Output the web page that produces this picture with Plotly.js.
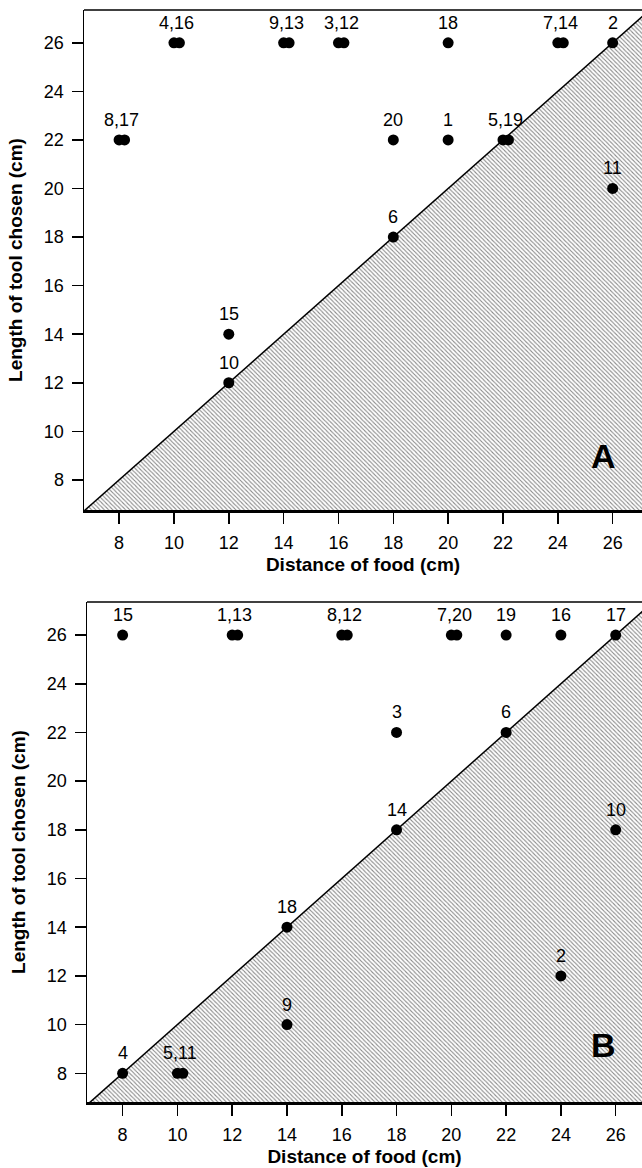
<!DOCTYPE html>
<html>
<head>
<meta charset="utf-8">
<script src="https://cdn.plot.ly/plotly-3.0.1.min.js"></script>
<style>html,body{margin:0;padding:0;background:#fff;}#chart{width:642px;height:1168px;}</style>
</head>
<body>
<div id="chart"></div>
<script>
// Panel A data (subject id, distance of food, length of tool chosen)
const idsA  = [4, 16, 9, 13, 3, 12, 18, 7, 14, 2, 8, 17, 20, 1, 5, 19, 11, 6, 15, 10];
const distA = [10, 10.2, 14, 14.2, 16, 16.2, 20, 24, 24.2, 26, 8, 8.2, 18, 20, 22, 22.2, 26, 18, 12, 12];
const lenA  = [26, 26, 26, 26, 26, 26, 26, 26, 26, 26, 22, 22, 22, 22, 22, 22, 20, 18, 14, 12];

// Panel B data
const idsB  = [15, 1, 13, 8, 12, 7, 20, 19, 16, 17, 3, 6, 14, 10, 18, 9, 2, 4, 5, 11];
const distB = [8, 12, 12.2, 16, 16.2, 20, 20.2, 22, 24, 26, 18, 22, 18, 26, 14, 14, 24, 8, 10, 10.2];
const lenB  = [26, 26, 26, 26, 26, 26, 26, 26, 26, 26, 22, 22, 18, 18, 14, 10, 12, 8, 8, 8];

const tickVals = [8, 10, 12, 14, 16, 18, 20, 22, 24, 26];
const panelLetters = ['A', 'B'];
const xTitle = 'Distance of food (cm)';
const yTitle = 'Length of tool chosen (cm)';

const FONT = '"Liberation Sans", Arial, Helvetica, sans-serif';

// group overlapping points for labels
function groups(ids, xs, ys) {
  const out = [];
  ids.forEach((id, i) => {
    const g = out.find(o => o.y === ys[i] && Math.abs(o.xs[o.xs.length - 1] - xs[i]) < 0.5);
    if (g) { g.ids.push(id); g.xs.push(xs[i]); }
    else out.push({ids: [id], xs: [xs[i]], y: ys[i]});
  });
  return out;
}

const traces = [];
const annotations = [];
const shapes = [];
const panels = [
  {ids: idsA, xs: distA, ys: lenA, xa: 'x', ya: 'y'},
  {ids: idsB, xs: distB, ys: lenB, xa: 'x2', ya: 'y2'}
];

panels.forEach((p, k) => {
  // shaded area below the identity line
  traces.push({
    x: [6, 28, 28, 6], y: [6, 28, 0, 0], xaxis: p.xa, yaxis: p.ya,
    mode: 'none', fill: 'toself', fillcolor: 'rgba(0,0,0,0)',
    fillpattern: {shape: '\\', size: 3, solidity: 0.35, fgcolor: '#8a8a8a', bgcolor: '#fff'},
    hoverinfo: 'skip', showlegend: false
  });
  // identity line
  traces.push({
    x: [6, 28], y: [6, 28], xaxis: p.xa, yaxis: p.ya, mode: 'lines',
    line: {color: '#000', width: 1.5}, hoverinfo: 'skip', showlegend: false
  });
  // points
  traces.push({
    x: p.xs, y: p.ys, text: p.ids, xaxis: p.xa, yaxis: p.ya, mode: 'markers',
    marker: {color: '#000', size: 11}, cliponaxis: false, showlegend: false
  });
  // labels
  groups(p.ids, p.xs, p.ys).forEach(g => {
    annotations.push({
      xref: p.xa, yref: p.ya,
      x: g.xs.reduce((a, b) => a + b, 0) / g.xs.length, y: g.y,
      text: g.ids.join(','), showarrow: false, yshift: 20,
      font: {family: FONT, size: 18, color: '#000'}
    });
  });
  // panel letter
  annotations.push({
    xref: p.xa + ' domain', yref: p.ya + ' domain',
    x: 0.957, y: k === 0 ? 0.066 : 0.072,
    text: '<b>' + panelLetters[k] + '</b>', showarrow: false,
    font: {family: FONT, size: 34, color: '#000'}
  });
  // top border
  shapes.push({
    type: 'line', xref: p.xa + ' domain', yref: p.ya + ' domain',
    x0: 0, x1: 1, y0: 1, y1: 1, line: {color: '#000', width: 1.5}
  });
});

function xAxis(domain, range, anchor) {
  return {
    domain: domain, range: range, anchor: anchor,
    tickmode: 'array', tickvals: tickVals, ticktext: tickVals.map(String),
    ticks: 'outside', ticklen: 11, tickwidth: 1.5, tickcolor: '#000',
    ticklabelstandoff: 4,
    showline: true, linewidth: 2.5, linecolor: '#000',
    showgrid: false, zeroline: false, automargin: false,
    tickfont: {family: FONT, size: 18, color: '#000'},
    title: {text: '<b>' + xTitle + '</b>', font: {family: FONT, size: 19, color: '#000'}, standoff: 6}
  };
}
function yAxis(domain, range, anchor) {
  return {
    domain: domain, range: range, anchor: anchor,
    tickmode: 'array', tickvals: tickVals, ticktext: tickVals.map(String),
    ticks: 'outside', ticklen: 11, tickwidth: 1.5, tickcolor: '#000',
    ticklabelstandoff: 4,
    showline: true, linewidth: 1.5, linecolor: '#000',
    showgrid: false, zeroline: false, automargin: false,
    tickfont: {family: FONT, size: 18, color: '#000'},
    title: {text: '<b>' + yTitle + '</b>', font: {family: FONT, size: 19, color: '#000'}, standoff: 16}
  };
}

const layout = {
  width: 642, height: 1168,
  margin: {l: 0, r: 0, t: 0, b: 0},
  paper_bgcolor: '#fff', plot_bgcolor: 'rgba(0,0,0,0)',
  showlegend: false,
  xaxis: xAxis([84 / 642, 1], [6.72, 27.07], 'y'),
  yaxis: yAxis([1 - 510 / 1168, 1 - 10 / 1168], [6.76, 27.35], 'x'),
  xaxis2: xAxis([87 / 642, 1], [6.70, 26.96], 'y2'),
  yaxis2: yAxis([1 - 1102 / 1168, 1 - 602 / 1168], [6.82, 27.36], 'x2'),
  annotations: annotations,
  shapes: shapes
};

Plotly.newPlot('chart', traces, layout, {displayModeBar: false, staticPlot: true});
</script>
</body>
</html>
